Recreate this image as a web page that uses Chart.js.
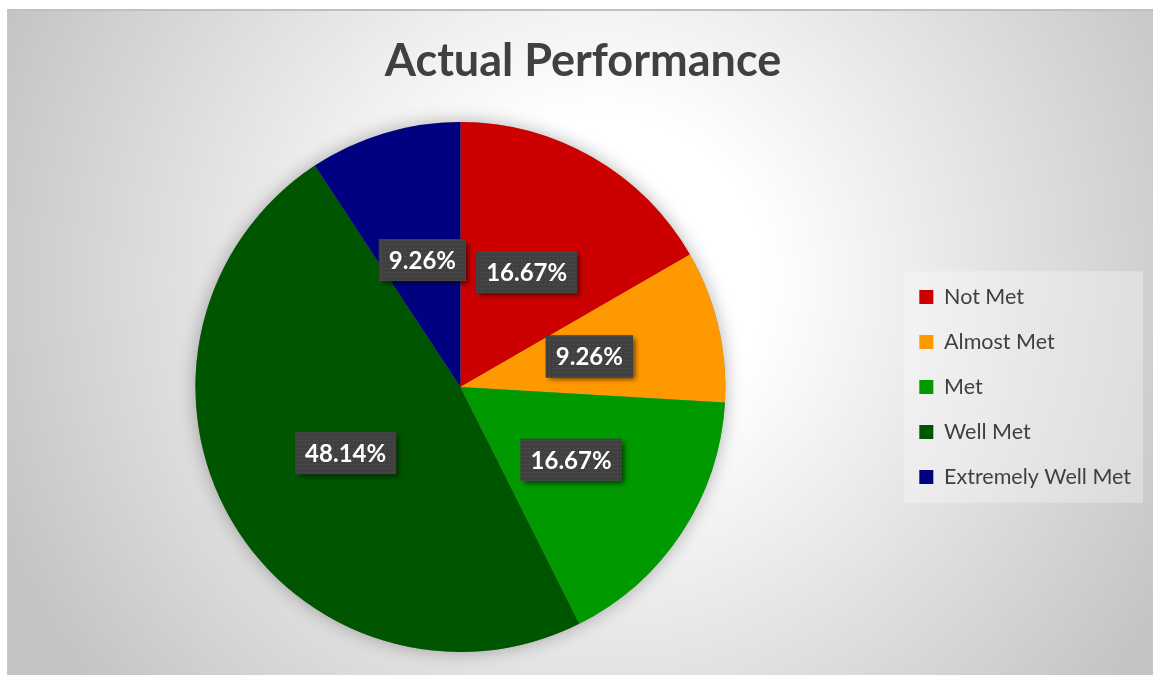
<!DOCTYPE html>
<html>
<head>
<meta charset="utf-8">
<script src="https://cdn.jsdelivr.net/npm/chart.js@4.4.0/dist/chart.umd.min.js"></script>
<style>
  html, body { margin: 0; padding: 0; background: #fff; overflow: hidden; }
  #quadro {
    position: absolute; left: 7px; top: 9px; width: 1146px; height: 666px;
    border-top: 2px solid #c0c0c0; border-left: 1px solid #c8c8c8;
    background: radial-gradient(circle 650px at 592px 270px, #ffffff 0px, #ffffff 165px, #c4c4c4 650px);
  }
  #grafico { position: absolute; left: 0; top: 0; }
</style>
</head>
<body>
<div id="quadro">
  <canvas id="grafico" width="1146" height="664"></canvas>
</div>
<script>
const categorias = ["Not Met", "Almost Met", "Met", "Well Met", "Extremely Well Met"];
const percentuais = [16.67, 9.26, 16.67, 48.14, 9.26];
const cores = ["#cc0000", "#ff9900", "#009900", "#005500", "#000080"];

const FONTE = "Lato, 'Open Sans', sans-serif";

/* =========================
   TEXTURA DOS RÓTULOS
========================= */
function criarTextura(ctx) {
  const c = document.createElement("canvas");
  c.width = 4;
  c.height = 4;
  const p = c.getContext("2d");
  p.fillStyle = "#404040";
  p.fillRect(0, 0, 4, 4);
  p.fillStyle = "#575757";
  p.fillRect(1, 1, 1, 1);
  return ctx.createPattern(c, "repeat");
}

/* =========================
   PAINEL DA LEGENDA + SOMBRA DA PIZZA
========================= */
const fundoExtra = {
  id: "fundoExtra",
  beforeDraw(chart) {
    const caixas = chart.legend.legendHitBoxes;
    if (!caixas || !caixas.length) return;
    const ctx = chart.ctx;
    const x0 = Math.min(...caixas.map(b => b.left)) - 15;
    const x1 = Math.max(...caixas.map(b => b.left + b.width)) + 12;
    const y0 = Math.min(...caixas.map(b => b.top)) - 15;
    const y1 = Math.max(...caixas.map(b => b.top + b.height)) + 15;
    ctx.save();
    ctx.fillStyle = "rgba(255,255,255,0.3)";
    ctx.fillRect(x0, y0, x1 - x0, y1 - y0);
    ctx.restore();
  },
  beforeDatasetsDraw(chart) {
    const arco = chart.getDatasetMeta(0).data[0];
    if (!arco) return;
    const ctx = chart.ctx;
    ctx.save();
    ctx.shadowColor = "rgba(0,0,0,0.3)";
    ctx.shadowBlur = 18;
    ctx.fillStyle = "#888";
    ctx.beginPath();
    ctx.arc(arco.x, arco.y, arco.outerRadius, 0, Math.PI * 2);
    ctx.fill();
    ctx.restore();
  }
};

/* =========================
   RÓTULOS DE PORCENTAGEM
========================= */
const rotulos = {
  id: "rotulos",
  afterDatasetsDraw(chart) {
    const ctx = chart.ctx;
    const textura = criarTextura(ctx);
    ctx.save();
    ctx.font = "bold 24px " + FONTE;
    ctx.textAlign = "center";
    ctx.textBaseline = "middle";
    chart.getDatasetMeta(0).data.forEach((arco, i) => {
      const pos = arco.tooltipPosition();
      const texto = percentuais[i].toFixed(2) + "%";
      const w = ctx.measureText(texto).width + 20;
      const h = 42;
      ctx.save();
      ctx.shadowColor = "rgba(0,0,0,0.55)";
      ctx.shadowBlur = 5;
      ctx.shadowOffsetX = 3;
      ctx.shadowOffsetY = 3;
      ctx.fillStyle = "#404040";
      ctx.fillRect(pos.x - w / 2, pos.y - h / 2, w, h);
      ctx.restore();
      ctx.fillStyle = textura;
      ctx.fillRect(pos.x - w / 2, pos.y - h / 2, w, h);
      ctx.fillStyle = "#ffffff";
      ctx.fillText(texto, pos.x, pos.y + 1);
    });
    ctx.restore();
  }
};

new Chart(document.getElementById("grafico"), {
  type: "pie",
  data: {
    labels: categorias,
    datasets: [{
      data: percentuais,
      backgroundColor: cores,
      borderWidth: 0
    }]
  },
  options: {
    responsive: false,
    animation: false,
    devicePixelRatio: 1,
    layout: { padding: { bottom: 23, left: 17, right: 13 } },
    plugins: {
      title: {
        display: true,
        text: "Actual Performance",
        color: "#404040",
        font: { family: FONTE, size: 45, weight: "bold" },
        padding: { top: 23, bottom: 34 }
      },
      legend: {
        position: "right",
        fullSize: false,
        labels: {
          color: "#404040",
          font: { family: FONTE, size: 21.5 },
          boxWidth: 14,
          boxHeight: 14,
          padding: 23.5
        }
      },
      tooltip: { enabled: false }
    }
  },
  plugins: [fundoExtra, rotulos]
});
</script>
</body>
</html>
